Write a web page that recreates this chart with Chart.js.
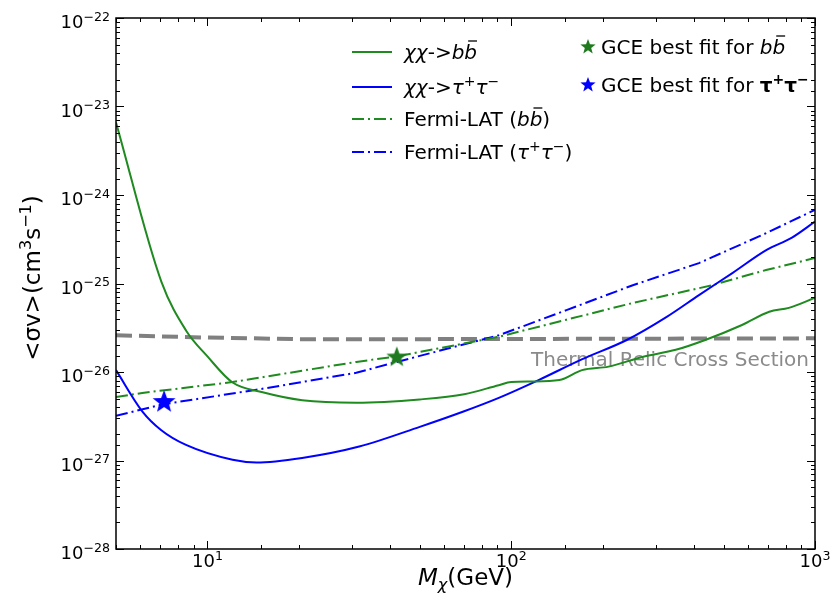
<!DOCTYPE html>
<html>
<head>
<meta charset="utf-8">
<script src="https://cdn.jsdelivr.net/npm/chart.js@4.4.1/dist/chart.umd.min.js"></script>
<style>
  html, body { margin: 0; padding: 0; background: #fff; }
  #wrap { width: 832px; height: 606px; }
</style>
</head>
<body>
<div id="wrap"><canvas id="chart" width="832" height="606"></canvas></div>
<script>
// datos (masa en GeV, <sigma v> en cm^3 s^-1)
const bbMass = [5, 7.05, 8.5, 10, 12.1, 15.2, 20.5, 30.9, 50, 70, 91, 100, 117, 144, 171, 209, 270, 348, 435, 575, 707, 820, 1000];
const bbLimit = [6.6e-24, 1.05e-25, 2.95e-26, 1.5e-26, 7.6e-27, 5.9e-27, 4.8e-27, 4.5e-27, 4.9e-27, 5.6e-27, 7.1e-27, 7.7e-27, 7.8e-27, 8.1e-27, 1.05e-26, 1.15e-26, 1.48e-26, 1.78e-26, 2.3e-26, 3.4e-26, 4.8e-26, 5.3e-26, 6.9e-26];

const tauMass = [5, 6.1, 7.05, 8.5, 12.1, 14.5, 20.5, 31.6, 50, 70, 91, 123, 170, 240, 325, 415, 536, 693, 840, 1000];
const tauLimit = [1.05e-26, 3.6e-27, 2.2e-27, 1.5e-27, 1.02e-27, 9.5e-28, 1.07e-27, 1.44e-27, 2.4e-27, 3.6e-27, 5.1e-27, 8.1e-27, 1.38e-26, 2.3e-26, 4.2e-26, 7.4e-26, 1.32e-25, 2.4e-25, 3.3e-25, 5.0e-25];

const fermiBbMass = [5, 6.1, 12.1, 30.9, 42, 91, 152, 250, 455, 690, 1000];
const fermiBbLimit = [5.2e-27, 5.8e-27, 7.7e-27, 1.3e-26, 1.5e-26, 2.5e-26, 3.9e-26, 6.0e-26, 9.5e-26, 1.42e-25, 1.94e-25];

const fermiTauMass = [5, 7.1, 14.5, 30.9, 42, 91, 152, 250, 415, 690, 1000];
const fermiTauLimit = [3.2e-27, 4.3e-27, 6.3e-27, 9.8e-27, 1.3e-26, 2.6e-26, 5.0e-26, 9.5e-26, 1.7e-25, 3.7e-25, 6.8e-25];

const thermalMass = [5, 10, 20, 50, 1000];
const thermalXsec = [2.6e-26, 2.45e-26, 2.35e-26, 2.35e-26, 2.4e-26];

const gceBbMass = [42];
const gceBbXsec = [1.5e-26];
const gceTauMass = [7.2];
const gceTauXsec = [4.7e-27];

const xTickValues = [10, 100, 1000];
const yTickValues = [1e-28, 1e-27, 1e-26, 1e-25, 1e-24, 1e-23, 1e-22];

const FONT = '"DejaVu Sans", sans-serif';
const GREEN = '#1f8a1f';
const BLUE = '#0000ff';
const DASHDOT = [12, 4, 2, 4];

function pairs(xs, ys) {
    return xs.map((x, i) => ({x: x, y: ys[i]}));
}

// estrella rellena para usar como pointStyle
function starCanvas(color, size) {
    const c = document.createElement('canvas');
    c.width = size; c.height = size;
    const g = c.getContext('2d');
    drawStar(g, size / 2, size / 2 + size * 0.04, size / 2, color);
    return c;
}

function drawStar(g, cx, cy, r, color) {
    g.beginPath();
    for (let i = 0; i < 10; i++) {
        const rad = i % 2 === 0 ? r : r * 0.42;
        const a = -Math.PI / 2 + i * Math.PI / 5;
        const px = cx + rad * Math.cos(a), py = cy + rad * Math.sin(a);
        if (i === 0) g.moveTo(px, py); else g.lineTo(px, py);
    }
    g.closePath();
    g.fillStyle = color;
    g.fill();
}

// texto con cursiva / superindices / subindices / barra
function segFont(ctx, seg, size) {
    const s = (seg.sup || seg.sub) ? size * 0.7 : size;
    ctx.font = (seg.it ? 'italic ' : '') + (seg.bold ? 'bold ' : '') + s + 'px ' + FONT;
    return s;
}

function drawRich(ctx, segs, x, y, size, align) {
    let total = 0;
    const widths = segs.map(seg => {
        segFont(ctx, seg, size);
        const w = ctx.measureText(seg.t).width;
        total += w;
        return w;
    });
    let cx = align === 'center' ? x - total / 2 : align === 'right' ? x - total : x;
    ctx.textAlign = 'left';
    ctx.textBaseline = 'alphabetic';
    segs.forEach((seg, i) => {
        segFont(ctx, seg, size);
        const dy = seg.sup ? -size * 0.4 : seg.sub ? size * 0.22 : 0;
        ctx.fillText(seg.t, cx, y + dy);
        if (seg.bar) {
            ctx.save();
            ctx.strokeStyle = ctx.fillStyle;
            ctx.lineWidth = Math.max(1, size * 0.065);
            ctx.beginPath();
            ctx.moveTo(cx + widths[i] * 0.3, y - size * 0.9);
            ctx.lineTo(cx + widths[i] * 1.0, y - size * 0.9);
            ctx.stroke();
            ctx.restore();
        }
        cx += widths[i];
    });
}

function minusExp(n) {
    return (n < 0 ? '\u2212' : '') + Math.abs(n);
}

const frameAndText = {
    id: 'frameAndText',
    beforeDatasetsDraw(chart) {
        const ctx = chart.ctx;
        const a = chart.chartArea;
        ctx.save();
        ctx.fillStyle = '#8a8a8a';
        ctx.font = '20px ' + FONT;
        ctx.textAlign = 'right';
        ctx.textBaseline = 'alphabetic';
        ctx.fillText('Thermal Relic Cross Section', a.right - 6, chart.scales.y.getPixelForValue(1.4e-26) + 7);
        ctx.restore();
    },
    afterDraw(chart) {
        const ctx = chart.ctx;
        const a = chart.chartArea;
        const xs = chart.scales.x, ys = chart.scales.y;
        ctx.save();
        ctx.strokeStyle = '#000';
        ctx.lineWidth = 1;
        const isMajor = v => Math.abs(Math.log10(v) - Math.round(Math.log10(v))) < 1e-6;

        // marcas de los ejes, hacia dentro y en los cuatro lados
        xs.ticks.forEach(t => {
            if (t.value < xs.min || t.value > xs.max) return;
            const px = Math.round(xs.getPixelForValue(t.value)) + 0.5;
            const len = isMajor(t.value) ? 8 : 4;
            ctx.beginPath();
            ctx.moveTo(px, a.bottom); ctx.lineTo(px, a.bottom - len);
            ctx.moveTo(px, a.top); ctx.lineTo(px, a.top + len);
            ctx.stroke();
        });
        ys.ticks.forEach(t => {
            if (t.value < ys.min * 0.999 || t.value > ys.max * 1.001) return;
            const py = Math.round(ys.getPixelForValue(t.value)) + 0.5;
            const len = isMajor(t.value) ? 8 : 4;
            ctx.beginPath();
            ctx.moveTo(a.left, py); ctx.lineTo(a.left + len, py);
            ctx.moveTo(a.right, py); ctx.lineTo(a.right - len, py);
            ctx.stroke();
        });

        ctx.lineWidth = 1.5;
        ctx.strokeRect(a.left, a.top, a.right - a.left, a.bottom - a.top);

        // etiquetas de los ticks
        ctx.fillStyle = '#000';
        yTickValues.forEach(v => {
            const py = ys.getPixelForValue(v);
            const n = Math.round(Math.log10(v));
            drawRich(ctx, [{t: '10'}, {t: minusExp(n), sup: true}], a.left - 6, py + 10, 18, 'right');
        });
        xTickValues.forEach(v => {
            const px = xs.getPixelForValue(v);
            const n = Math.round(Math.log10(v));
            drawRich(ctx, [{t: '10'}, {t: minusExp(n), sup: true}], px, a.bottom + 18, 18, 'center');
        });

        // titulos de los ejes
        drawRich(ctx, [{t: 'M', it: true}, {t: '\u03c7', it: true, sub: true}, {t: '(GeV)'}],
            (a.left + a.right) / 2, a.bottom + 36, 23, 'center');
        ctx.save();
        ctx.translate(32, 278);
        ctx.rotate(-Math.PI / 2);
        drawRich(ctx, [{t: '<\u03c3v>(cm'}, {t: '3', sup: true}, {t: 's'}, {t: '\u22121', sup: true}, {t: ')'}],
            0, 8, 23, 'center');
        ctx.restore();

        // leyenda
        const rows = [
            {c: GREEN, dash: [], y: 52, segs: [{t: '\u03c7\u03c7', it: true}, {t: '->'}, {t: 'b', it: true}, {t: 'b', it: true, bar: true}]},
            {c: BLUE, dash: [], y: 87, segs: [{t: '\u03c7\u03c7', it: true}, {t: '->'}, {t: '\u03c4', it: true}, {t: '+', sup: true}, {t: '\u03c4', it: true}, {t: '\u2212', sup: true}]},
            {c: GREEN, dash: DASHDOT, y: 119, segs: [{t: 'Fermi-LAT ('}, {t: 'b', it: true}, {t: 'b', it: true, bar: true}, {t: ')'}]},
            {c: BLUE, dash: DASHDOT, y: 152, segs: [{t: 'Fermi-LAT ('}, {t: '\u03c4', it: true}, {t: '+', sup: true}, {t: '\u03c4', it: true}, {t: '\u2212', sup: true}, {t: ')'}]}
        ];
        rows.forEach(r => {
            ctx.save();
            ctx.strokeStyle = r.c;
            ctx.lineWidth = 2;
            ctx.setLineDash(r.dash);
            ctx.beginPath();
            ctx.moveTo(352, r.y); ctx.lineTo(392, r.y);
            ctx.stroke();
            ctx.restore();
            ctx.fillStyle = '#000';
            drawRich(ctx, r.segs, 404, r.y + 7, 20, 'left');
        });
        const starRows = [
            {c: '#1f7a1f', y: 47, segs: [{t: 'GCE best fit for '}, {t: 'b', it: true}, {t: 'b', it: true, bar: true}]},
            {c: BLUE, y: 85, segs: [{t: 'GCE best fit for '}, {t: '\u03c4', bold: true}, {t: '+', sup: true, bold: true}, {t: '\u03c4', bold: true}, {t: '\u2212', sup: true, bold: true}]}
        ];
        starRows.forEach(r => {
            drawStar(ctx, 588, r.y, 8, r.c);
            ctx.fillStyle = '#000';
            drawRich(ctx, r.segs, 601, r.y + 7, 20, 'left');
        });
        ctx.restore();
    }
};

const config = {
    type: 'line',
    data: {
        datasets: [
            {
                label: 'GCE bb',
                data: pairs(gceBbMass, gceBbXsec),
                showLine: false,
                pointStyle: starCanvas('#1f7a1f', 22),
                pointRadius: 11,
                order: 0
            },
            {
                label: 'GCE tautau',
                data: pairs(gceTauMass, gceTauXsec),
                showLine: false,
                pointStyle: starCanvas(BLUE, 24),
                pointRadius: 12,
                order: 0
            },
            {
                label: 'chichi->bb',
                data: pairs(bbMass, bbLimit),
                borderColor: GREEN,
                borderWidth: 2,
                cubicInterpolationMode: 'monotone',
                order: 1
            },
            {
                label: 'chichi->tautau',
                data: pairs(tauMass, tauLimit),
                borderColor: BLUE,
                borderWidth: 2,
                cubicInterpolationMode: 'monotone',
                order: 1
            },
            {
                label: 'Fermi-LAT (bb)',
                data: pairs(fermiBbMass, fermiBbLimit),
                borderColor: GREEN,
                borderWidth: 2,
                borderDash: DASHDOT,
                tension: 0,
                order: 2
            },
            {
                label: 'Fermi-LAT (tautau)',
                data: pairs(fermiTauMass, fermiTauLimit),
                borderColor: BLUE,
                borderWidth: 2,
                borderDash: DASHDOT,
                tension: 0,
                order: 2
            },
            {
                label: 'Thermal',
                data: pairs(thermalMass, thermalXsec),
                borderColor: '#808080',
                borderWidth: 4,
                borderDash: [16, 7],
                tension: 0,
                order: 3
            }
        ]
    },
    options: {
        responsive: false,
        animation: false,
        layout: {padding: {top: 18, right: 17, left: 0, bottom: 0}},
        elements: {
            point: {radius: 0, hoverRadius: 0},
            line: {fill: false}
        },
        plugins: {
            legend: {display: false},
            tooltip: {enabled: false},
            title: {display: false}
        },
        scales: {
            x: {
                type: 'logarithmic',
                min: 5,
                max: 1000,
                grid: {display: false},
                border: {display: false},
                ticks: {display: false},
                afterFit: scale => { scale.height = 57; }
            },
            y: {
                type: 'logarithmic',
                min: 1e-28,
                max: 1e-22,
                grid: {display: false},
                border: {display: false},
                ticks: {display: false},
                afterFit: scale => { scale.width = 116; }
            }
        }
    },
    plugins: [frameAndText]
};

const ctx = document.getElementById('chart').getContext('2d');
new Chart(ctx, config);
</script>
</body>
</html>
